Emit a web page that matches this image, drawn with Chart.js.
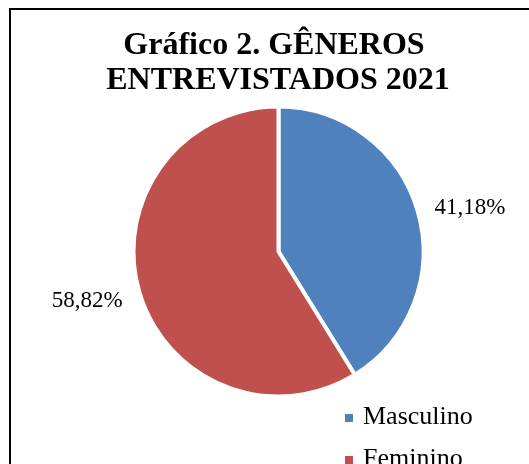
<!DOCTYPE html>
<html>
<head>
<meta charset="utf-8">
<script src="https://cdn.jsdelivr.net/npm/chart.js@4.4.1/dist/chart.umd.min.js"></script>
<style>
  body { margin: 0; background: #fff; width: 529px; height: 464px; overflow: hidden; position: relative; }
  .frame { position: absolute; left: 9px; top: 8px; width: 700px; height: 700px; border-top: 2px solid #000; border-left: 2px solid #000; }
  #myChart { position: absolute; left: 0; top: 0; }
  .title { position: absolute; left: 0; width: 556px; top: 26px; text-align: center;
    font-family: "Liberation Serif", "Times New Roman", serif; font-weight: bold; font-size: 32px; line-height: 35px; color: #000; }
  .legend { position: absolute; left: 345px; top: 398px; font-family: "Liberation Serif", serif; font-size: 26px; color: #000; }
  .legend div { height: 42px; line-height: 36px; white-space: nowrap; }
  .legend span { display: inline-block; width: 8px; height: 8px; margin-right: 10px; vertical-align: 2px; }
</style>
</head>
<body>
<div class="frame"></div>
<canvas id="myChart" width="529" height="464"></canvas>
<div class="title">Gráfico 2. GÊNEROS&nbsp;<br>ENTREVISTADOS 2021</div>
<div class="legend" id="legend"></div>
<script>
// data
const categories = ['Masculino', 'Feminino'];
const percents = [41.18, 58.82];
const colors = ['#4F81BD', '#C0504D'];

// legend
const legend = document.getElementById('legend');
categories.forEach(function (name, i) {
  const row = document.createElement('div');
  row.innerHTML = '<span style="background:' + colors[i] + '"></span>' + name;
  legend.appendChild(row);
});

// percentage labels outside the slices
const outsideLabels = {
  id: 'outsideLabels',
  afterDatasetsDraw(chart) {
    const ctx = chart.ctx;
    const meta = chart.getDatasetMeta(0);
    ctx.save();
    ctx.font = '23px "Liberation Serif", serif';
    ctx.fillStyle = '#000';
    ctx.textAlign = 'center';
    ctx.textBaseline = 'middle';
    meta.data.forEach(function (arc, i) {
      const p = arc.getProps(['x', 'y', 'startAngle', 'endAngle', 'outerRadius'], true);
      const mid = (p.startAngle + p.endAngle) / 2;
      // labels sit on a flattened ring around the pie
      const rx = p.outerRadius + 54;
      const ry = p.outerRadius + 25;
      const text = percents[i].toFixed(2).replace('.', ',') + '%';
      ctx.fillText(text, p.x + Math.cos(mid) * rx, p.y + Math.sin(mid) * ry + 3);
    });
    ctx.restore();
  }
};

const ctx = document.getElementById('myChart').getContext('2d');

// eslint-disable-next-line
const chart = new Chart(ctx, {
  type: 'pie',
  data: {
    labels: categories,
    datasets: [
      {
        data: percents,
        backgroundColor: colors,
        borderColor: '#ffffff',
        borderWidth: 4,
        radius: 145,
        hoverOffset: 0,
        offset: 0,
      },
    ],
  },
  options: {
    responsive: false,
    animation: false,
    layout: { padding: { left: 133.5, right: 105.5, top: 106.5, bottom: 67.5 } },
    plugins: {
      legend: { display: false },
      title: { display: false },
      tooltip: { enabled: false },
    },
  },
  plugins: [outsideLabels],
});
</script>
</body>
</html>
